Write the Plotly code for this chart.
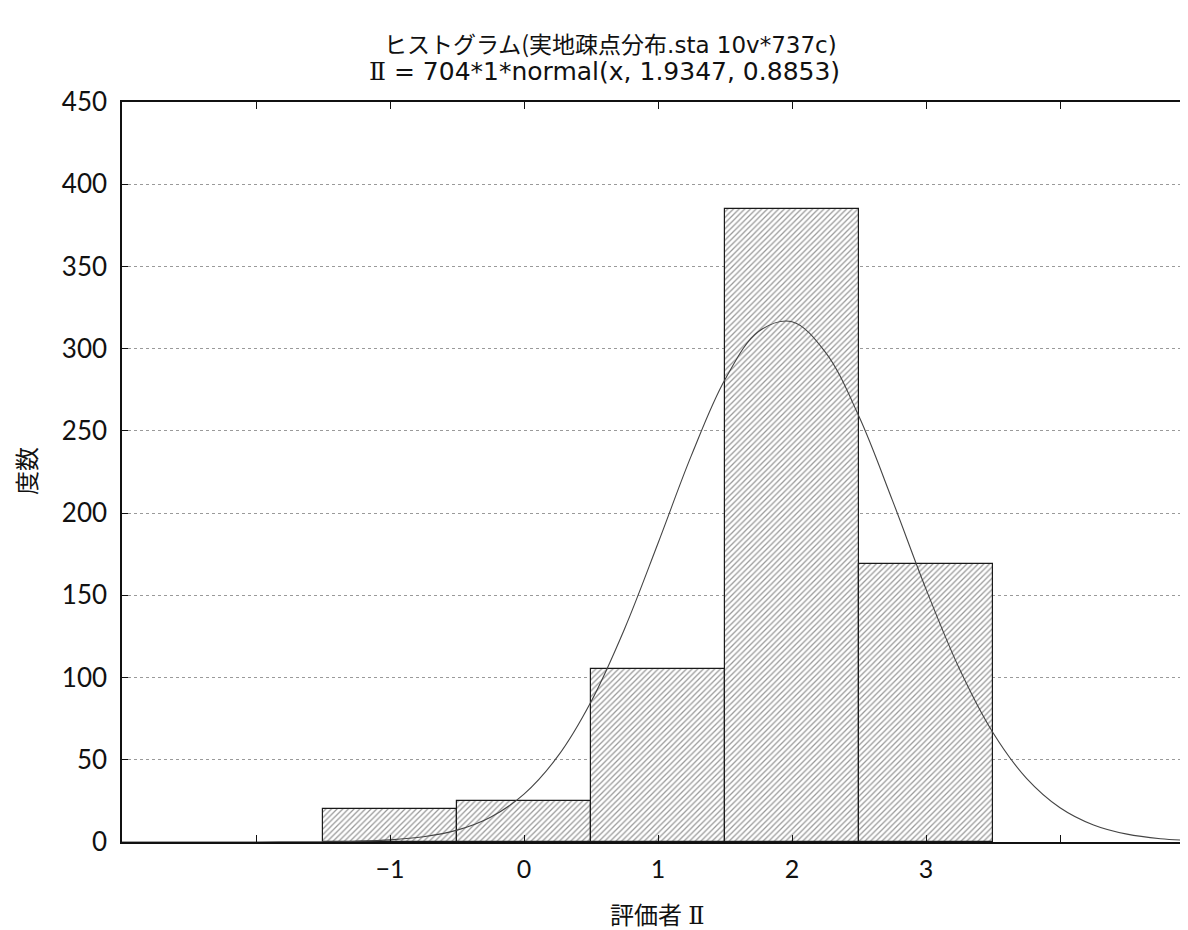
import plotly.graph_objects as go

# Histogram data
categories = [-1, 0, 1, 2, 3]
counts = [20, 25, 105, 385, 169]

# Fitted normal curve (704*1*normal(x, 1.9347, 0.8853))
curve_x = [-3, -2.5, -2, -1.5, -1.25, -1, -0.75, -0.5, -0.25, 0, 0.25, 0.5, 0.75,
           1, 1.25, 1.5, 1.75, 2, 2.25, 2.5, 2.75, 3, 3.25, 3.5, 3.75, 4, 4.25,
           4.5, 4.75, 5]
curve_y = [0.0, 0.0, 0.02, 0.17, 0.49, 1.30, 3.19, 7.21, 15.07, 29.13, 51.88, 85.32,
           129.58, 181.69, 235.24, 281.22, 310.41, 316.38, 297.75, 258.72, 207.61,
           153.80, 105.21, 66.45, 38.75, 20.87, 10.38, 4.77, 2.02, 0.79]

x_tickvals = [-2, -1, 0, 1, 2, 3, 4]
x_ticktext = ["", "−1", "0", "1", "2", "3", ""]
y_tickvals = [0, 50, 100, 150, 200, 250, 300, 350, 400, 450]

CJK = "'Noto Sans CJK JP'"
ROMAN = "'DejaVu Serif'"
def cjk(s):
    return f"<span style=\"font-family:{CJK}\">{s}</span>"
def roman(s):
    return f"<span style=\"font-family:{ROMAN}\">{s}</span>"

title_line1 = cjk("ヒストグラム(実地疎点分布") + ".sta 10v*737c)"
title_line2 = roman("Ⅱ") + " = 704*1*normal(x, 1.9347, 0.8853)"
x_title = cjk("評価者") + " " + roman("Ⅱ")
y_title = cjk("度数")

FONT = "Lato, 'Noto Sans CJK JP', sans-serif"
TFONT = "'DejaVu Sans', 'Noto Sans CJK JP', sans-serif"

# the page body has an 8px margin, so the figure is drawn 8px smaller and shifted
OFF = 8
W, H = 1188 - OFF, 930 - OFF
L, R, T, B = 122 - OFF, 0, 102 - OFF, 930 - 842
PW, PH = W - L - R, H - T - B

def px_x(p):
    return (p - OFF - L) / PW

def px_y(p):
    return (H - B - (p - OFF)) / PH

fig = go.Figure()
fig.add_trace(go.Bar(
    x=categories, y=counts, width=1,
    marker=dict(
        color="white",
        line=dict(color="#1a1a1a", width=1.2),
        pattern=dict(shape="/", fgcolor="#333", bgcolor="white", size=4, solidity=0.32),
    ),
    showlegend=False,
))
fig.add_trace(go.Scatter(
    x=curve_x, y=curve_y, mode="lines", line=dict(color="#444", width=1.1, shape="spline"),
    showlegend=False,
))

annos = [
    dict(text=title_line1, x=px_x(610), y=px_y(43), font=dict(size=23, family=TFONT)),
    dict(text=title_line2, x=px_x(604), y=px_y(72), font=dict(size=25, family=TFONT)),
    dict(text=x_title, x=px_x(657), y=px_y(913), font=dict(size=24)),
    dict(text=y_title, x=px_x(25), y=px_y(471), font=dict(size=24), textangle=-90),
]
for a in annos:
    a.update(xref="paper", yref="paper", xanchor="center", yanchor="middle", showarrow=False)

fig.update_layout(
    width=W, height=H,
    paper_bgcolor="white", plot_bgcolor="white",
    margin=dict(l=L, r=R, t=T, b=B, autoexpand=False),
    font=dict(family=FONT, color="#111", size=22),
    bargap=0,
    annotations=annos,
)
fig.update_xaxes(
    range=[-3, 4.955], automargin=False,
    tickmode="array", tickvals=x_tickvals, ticktext=x_ticktext,
    ticks="inside", ticklen=7, tickwidth=1, tickcolor="#111",
    showline=True, linecolor="#111", linewidth=2, mirror="allticks",
    showgrid=False, zeroline=False,
    tickfont=dict(size=25, family=FONT),
    ticklabelstandoff=4,
)
fig.update_yaxes(
    range=[0, 450], automargin=False,
    tickmode="array", tickvals=y_tickvals,
    ticks="inside", ticklen=6, tickwidth=1, tickcolor="#111",
    showline=True, linecolor="#111", linewidth=1.5,
    showgrid=True, gridcolor="#9a9a9a", griddash="dot", gridwidth=1,
    zeroline=False,
    tickfont=dict(size=26, family=FONT),
    ticklabelstandoff=8,
)

fig.write_html("out.html")
